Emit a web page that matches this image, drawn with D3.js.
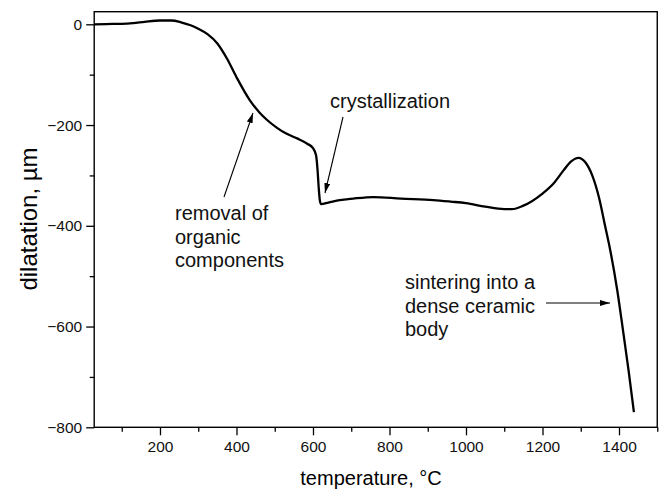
<!DOCTYPE html>
<html lang="en">
<head>
<meta charset="UTF-8">
<script src="https://d3js.org/d3.v7.min.js"></script>
<style>
  body { margin: 0; background: #fff; }
  svg { display: block; font-family: "Liberation Sans", Arial, sans-serif; }
</style>
</head>
<body>
<div id="plot"></div>
<script>
// temperature (°C) and dilatation (µm)
var temps = [28, 60, 100, 130, 160, 200, 230, 255, 280, 300, 325, 350, 375, 400, 435, 460, 480, 505, 530, 560,
             585, 600, 608, 612, 615, 618, 621, 640, 670, 705, 758, 830, 915, 960, 1000, 1050, 1100, 1120, 1150,
             1200, 1230, 1255, 1275, 1294, 1312, 1330, 1348, 1363, 1377, 1395, 1410, 1425, 1439];
var dilat = [0, 0.5, 1, 2.5, 5, 7.5, 7.5, 4, -2, -9, -20, -38, -68, -105, -151, -175, -190, -205, -217, -227,
             -237, -246, -260, -290, -325, -350, -357, -354, -349, -346, -343, -346, -349, -352, -355, -362, -367, -367, -360,
             -336, -315, -290, -272, -265, -274, -300, -345, -398, -448, -526, -605, -687, -770];

var xTicks = [200, 400, 600, 800, 1000, 1200, 1400];
var xMinor = [100, 300, 500, 700, 900, 1100, 1300, 1500];
var yTicks = [0, -200, -400, -600, -800];
var yMinor = [-100, -300, -500, -700];

var width = 663, height = 489;
var margin = {left: 94.2, right: 5.75, top: 11.7, bottom: 61.7};

var svg = d3.select("#plot").append("svg")
    .attr("width", width)
    .attr("height", height);

var x = d3.scaleLinear().domain([28, 1500]).range([margin.left, width - margin.right]);
var y = d3.scaleLinear().domain([-800, 25]).range([height - margin.bottom, margin.top]);

// minor ticks first, then major ticks with labels
svg.append("g")
    .attr("transform", "translate(0," + y(-800) + ")")
    .call(d3.axisBottom(x).tickValues(xMinor).tickSize(4.5).tickFormat(""))
    .call(g => g.select(".domain").remove())
    .selectAll("line").attr("stroke-width", 1.3);

svg.append("g")
    .attr("transform", "translate(" + x(28) + ",0)")
    .call(d3.axisLeft(y).tickValues(yMinor).tickSize(4.5).tickFormat(""))
    .call(g => g.select(".domain").remove())
    .selectAll("line").attr("stroke-width", 1.3);

var xAxis = svg.append("g")
    .attr("transform", "translate(0," + y(-800) + ")")
    .call(d3.axisBottom(x).tickValues(xTicks).tickSize(8).tickPadding(6).tickFormat(d3.format("d")));
xAxis.select(".domain").remove();
xAxis.selectAll("line").attr("stroke-width", 1.3);
xAxis.selectAll("text").attr("font-size", 15.5).attr("font-family", null).attr("fill", "#111");

var yAxis = svg.append("g")
    .attr("transform", "translate(" + x(28) + ",0)")
    .call(d3.axisLeft(y).tickValues(yTicks).tickSize(8).tickPadding(4).tickFormat(d3.format("d")));
yAxis.select(".domain").remove();
yAxis.selectAll("line").attr("stroke-width", 1.3);
yAxis.selectAll("text").attr("font-size", 15.5).attr("font-family", null).attr("fill", "#111");

// frame
svg.append("rect")
    .attr("x", x(28)).attr("y", y(25))
    .attr("width", x(1500) - x(28)).attr("height", y(-800) - y(25))
    .attr("fill", "none").attr("stroke", "#000").attr("stroke-width", 1.4);

// curve
var pts = temps.map((t, i) => [t, dilat[i]]);
svg.append("path")
    .datum(pts)
    .attr("fill", "none")
    .attr("stroke", "#000")
    .attr("stroke-width", 2.3)
    .attr("stroke-linejoin", "round")
    .attr("d", d3.line().x(d => x(d[0])).y(d => y(d[1])).curve(d3.curveMonotoneX));

// axis titles
svg.append("text")
    .attr("x", 371).attr("y", 485)
    .attr("text-anchor", "middle")
    .attr("font-size", 20)
    .text("temperature, \u00B0C");

svg.append("text")
    .attr("transform", "translate(37,219) rotate(-90)")
    .attr("text-anchor", "middle")
    .attr("font-size", 24)
    .text("dilatation, \u00B5m");

// arrows
var defs = svg.append("defs");
defs.append("marker")
    .attr("id", "head")
    .attr("viewBox", "0 0 10 6")
    .attr("refX", 10).attr("refY", 3)
    .attr("markerWidth", 10).attr("markerHeight", 6)
    .attr("markerUnits", "userSpaceOnUse")
    .attr("orient", "auto")
  .append("path")
    .attr("d", "M0,0L10,3L0,6Z")
    .attr("fill", "#000");

var arrows = [
  [224, 197, 253, 113],
  [343, 117, 325, 193],
  [546, 303, 610, 303]
];
svg.selectAll(".arrow").data(arrows).join("line")
    .attr("class", "arrow")
    .attr("x1", d => d[0]).attr("y1", d => d[1])
    .attr("x2", d => d[2]).attr("y2", d => d[3])
    .attr("stroke", "#000").attr("stroke-width", 1.1)
    .attr("marker-end", "url(#head)");

// annotations
var notes = [
  {x: 330, y: 108, lines: ["crystallization"]},
  {x: 175, y: 220, lines: ["removal of", "organic", "components"]},
  {x: 405, y: 289, lines: ["sintering into a", "dense ceramic", "body"]}
];
notes.forEach(n => {
  var t = svg.append("text").attr("font-size", 20).attr("fill", "#111");
  n.lines.forEach((l, i) => {
    t.append("tspan").attr("x", n.x).attr("y", n.y + i * 23.5).text(l);
  });
});
</script>
</body>
</html>
